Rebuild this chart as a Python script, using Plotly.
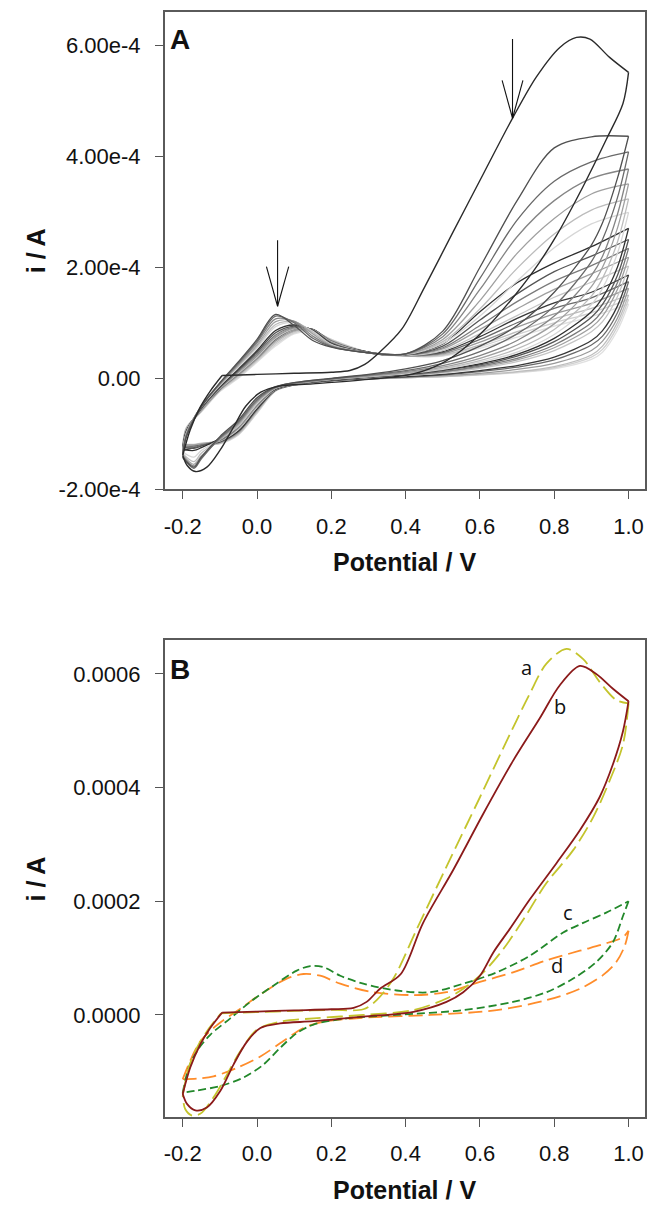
import plotly.graph_objects as go

# ---------------- DATA (currents in units of 1e-4 A) ----------------
UNIT = 1e-4

X_TICKS = [-0.2, 0.0, 0.2, 0.4, 0.6, 0.8, 1.0]
X_TICK_TEXT = ["-0.2", "0.0", "0.2", "0.4", "0.6", "0.8", "1.0"]
A_Y_TICKS = [-2e-4, 0.0, 2e-4, 4e-4, 6e-4]
A_Y_TICK_TEXT = ["-2.00e-4", "0.00", "2.00e-4", "4.00e-4", "6.00e-4"]
B_Y_TICKS = [0.0, 0.0002, 0.0004, 0.0006]
B_Y_TICK_TEXT = ["0.0000", "0.0002", "0.0004", "0.0006"]

# ---- Panel A : first cycle ----
cyc01_rise_v = [-0.2, -0.18, -0.153, -0.126, -0.094]
cyc01_rise_i = [-1.39, -0.93, -0.52, -0.23, 0.05]
cyc01_fwd_v = [-0.094, 0.0, 0.1, 0.2, 0.25, 0.29, 0.33, 0.39, 0.45, 0.525, 0.609, 0.689, 0.752, 0.815, 0.86, 0.896, 0.949, 1.0]
cyc01_fwd_i = [0.05, 0.07, 0.09, 0.11, 0.14, 0.25, 0.47, 0.89, 1.63, 2.6, 3.68, 4.70, 5.43, 5.96, 6.14, 6.11, 5.78, 5.51]
cyc01_rev_v = [1.0, 0.985, 0.94, 0.878, 0.806, 0.743, 0.68, 0.618, 0.55, 0.5, 0.42, 0.3, 0.15, 0.06, 0.01, -0.03, -0.065, -0.1, -0.135, -0.166, -0.188, -0.2]
cyc01_rev_i = [5.51, 4.95, 4.30, 3.46, 2.57, 1.92, 1.38, 0.91, 0.50, 0.28, 0.08, -0.02, -0.10, -0.14, -0.25, -0.50, -0.90, -1.30, -1.60, -1.68, -1.57, -1.39]

# ---- Panel A : later cycles on shared potential grids ----
FWD_V = [-0.2, -0.19, -0.15, -0.1, -0.05, 0.0, 0.05, 0.1, 0.15, 0.2, 0.3, 0.4, 0.5, 0.6, 0.7, 0.8, 0.9, 1.0]
REV_V = [1.0, 0.97, 0.93, 0.9, 0.8, 0.7, 0.6, 0.5, 0.4, 0.3, 0.2, 0.1, 0.05, 0.0, -0.05, -0.1, -0.15, -0.17, -0.2]

cyc02_fwd = [-1.38, -1.05, -0.52, -0.08, 0.30, 0.70, 1.15, 0.95, 0.68, 0.56, 0.46, 0.44, 0.85, 2.00, 3.20, 4.15, 4.35, 4.36]
cyc03_fwd = [-1.36, -1.03, -0.50, -0.09, 0.28, 0.67, 1.12, 1.00, 0.72, 0.57, 0.46, 0.44, 0.80, 1.80, 2.85, 3.55, 3.90, 4.08]
cyc04_fwd = [-1.35, -1.02, -0.50, -0.10, 0.26, 0.64, 1.07, 1.02, 0.76, 0.58, 0.46, 0.44, 0.75, 1.60, 2.55, 3.20, 3.60, 3.77]
cyc05_fwd = [-1.34, -1.00, -0.50, -0.11, 0.24, 0.60, 1.02, 1.03, 0.80, 0.59, 0.46, 0.43, 0.70, 1.40, 2.25, 2.88, 3.32, 3.50]
cyc06_fwd = [-1.33, -0.99, -0.51, -0.12, 0.22, 0.57, 0.97, 1.02, 0.83, 0.60, 0.46, 0.43, 0.66, 1.25, 1.98, 2.60, 3.03, 3.23]
cyc07_fwd = [-1.32, -0.98, -0.52, -0.13, 0.20, 0.54, 0.93, 1.00, 0.85, 0.61, 0.46, 0.43, 0.63, 1.12, 1.75, 2.35, 2.78, 2.99]
cyc08_fwd = [-1.30, -0.96, -0.53, -0.15, 0.17, 0.50, 0.86, 0.96, 0.86, 0.62, 0.46, 0.43, 0.62, 1.20, 1.72, 2.08, 2.37, 2.70]
cyc09_fwd = [-1.29, -0.95, -0.54, -0.16, 0.15, 0.47, 0.82, 0.94, 0.87, 0.63, 0.46, 0.42, 0.58, 1.05, 1.52, 1.92, 2.20, 2.50]
cyc10_fwd = [-1.28, -0.94, -0.55, -0.17, 0.13, 0.44, 0.78, 0.92, 0.87, 0.64, 0.46, 0.42, 0.55, 0.95, 1.38, 1.75, 2.03, 2.34]
cyc11_fwd = [-1.27, -0.93, -0.56, -0.18, 0.11, 0.41, 0.75, 0.90, 0.87, 0.65, 0.46, 0.42, 0.53, 0.88, 1.25, 1.60, 1.88, 2.18]
cyc12_fwd = [-1.26, -0.92, -0.57, -0.19, 0.09, 0.38, 0.72, 0.89, 0.87, 0.66, 0.46, 0.41, 0.50, 0.80, 1.13, 1.46, 1.73, 2.02]
cyc13_fwd = [-1.30, -0.95, -0.56, -0.19, 0.10, 0.40, 0.74, 0.90, 0.88, 0.66, 0.47, 0.42, 0.48, 0.75, 1.08, 1.36, 1.55, 1.86]
cyc14_fwd = [-1.28, -0.93, -0.57, -0.20, 0.08, 0.37, 0.70, 0.88, 0.88, 0.67, 0.47, 0.41, 0.46, 0.70, 1.00, 1.26, 1.45, 1.74]
cyc15_fwd = [-1.26, -0.91, -0.58, -0.21, 0.06, 0.35, 0.67, 0.86, 0.87, 0.68, 0.47, 0.41, 0.44, 0.65, 0.92, 1.16, 1.35, 1.62]
cyc16_fwd = [-1.24, -0.90, -0.59, -0.22, 0.04, 0.33, 0.64, 0.84, 0.86, 0.69, 0.47, 0.40, 0.42, 0.60, 0.84, 1.07, 1.26, 1.50]
cyc17_fwd = [-1.22, -0.89, -0.60, -0.23, 0.02, 0.31, 0.61, 0.82, 0.85, 0.70, 0.47, 0.40, 0.41, 0.57, 0.79, 1.00, 1.18, 1.42]
cyc18_fwd = [-1.20, -0.88, -0.61, -0.24, 0.00, 0.29, 0.58, 0.80, 0.84, 0.70, 0.47, 0.40, 0.40, 0.54, 0.74, 0.94, 1.11, 1.34]

cyc02_rev = [4.36, 3.60, 2.80, 2.40, 1.55, 0.95, 0.58, 0.32, 0.17, 0.07, 0.00, -0.08, -0.15, -0.35, -0.75, -1.05, -1.42, -1.60, -1.42]
cyc03_rev = [4.08, 3.25, 2.50, 2.10, 1.30, 0.80, 0.48, 0.27, 0.14, 0.06, -0.01, -0.08, -0.16, -0.38, -0.78, -1.07, -1.45, -1.62, -1.43]
cyc04_rev = [3.77, 2.95, 2.20, 1.85, 1.12, 0.68, 0.41, 0.23, 0.12, 0.05, -0.01, -0.09, -0.17, -0.40, -0.80, -1.08, -1.42, -1.58, -1.40]
cyc05_rev = [3.50, 2.70, 2.00, 1.65, 0.98, 0.60, 0.36, 0.20, 0.10, 0.04, -0.02, -0.09, -0.17, -0.42, -0.82, -1.10, -1.40, -1.55, -1.38]
cyc06_rev = [3.23, 2.45, 1.80, 1.48, 0.88, 0.53, 0.32, 0.18, 0.09, 0.03, -0.02, -0.10, -0.18, -0.44, -0.85, -1.10, -1.35, -1.50, -1.36]
cyc07_rev = [2.99, 2.25, 1.62, 1.33, 0.79, 0.47, 0.29, 0.16, 0.08, 0.03, -0.02, -0.10, -0.18, -0.46, -0.86, -1.10, -1.30, -1.42, -1.33]
cyc08_rev = [2.70, 2.00, 1.45, 1.20, 0.72, 0.43, 0.26, 0.15, 0.07, 0.02, -0.03, -0.10, -0.19, -0.42, -0.80, -1.08, -1.25, -1.30, -1.28]
cyc09_rev = [2.50, 1.85, 1.33, 1.10, 0.66, 0.40, 0.24, 0.14, 0.07, 0.02, -0.03, -0.10, -0.19, -0.45, -0.85, -1.10, -1.22, -1.26, -1.25]
cyc10_rev = [2.34, 1.72, 1.22, 1.00, 0.60, 0.36, 0.22, 0.12, 0.06, 0.02, -0.03, -0.10, -0.20, -0.48, -0.88, -1.12, -1.20, -1.24, -1.23]
cyc11_rev = [2.18, 1.60, 1.12, 0.92, 0.55, 0.33, 0.20, 0.11, 0.05, 0.01, -0.03, -0.11, -0.20, -0.50, -0.90, -1.12, -1.18, -1.20, -1.20]
cyc12_rev = [2.02, 1.47, 1.02, 0.84, 0.50, 0.30, 0.18, 0.10, 0.05, 0.01, -0.03, -0.11, -0.20, -0.52, -0.92, -1.13, -1.17, -1.19, -1.19]
cyc13_rev = [1.86, 1.30, 0.86, 0.68, 0.38, 0.23, 0.14, 0.07, 0.03, 0.00, -0.04, -0.11, -0.21, -0.55, -0.95, -1.14, -1.20, -1.25, -1.30]
cyc14_rev = [1.74, 1.18, 0.76, 0.60, 0.33, 0.20, 0.12, 0.06, 0.02, 0.00, -0.04, -0.12, -0.21, -0.56, -0.96, -1.15, -1.20, -1.22, -1.25]
cyc15_rev = [1.62, 1.08, 0.67, 0.50, 0.27, 0.16, 0.09, 0.05, 0.02, -0.01, -0.04, -0.12, -0.22, -0.58, -0.98, -1.16, -1.20, -1.21, -1.22]
cyc16_rev = [1.50, 1.00, 0.58, 0.42, 0.21, 0.12, 0.07, 0.03, 0.01, -0.01, -0.04, -0.12, -0.22, -0.60, -1.00, -1.17, -1.19, -1.20, -1.20]
cyc17_rev = [1.42, 0.93, 0.52, 0.38, 0.19, 0.11, 0.06, 0.03, 0.01, -0.01, -0.04, -0.12, -0.23, -0.62, -1.01, -1.17, -1.19, -1.20, -1.20]
cyc18_rev = [1.34, 0.86, 0.47, 0.34, 0.17, 0.10, 0.06, 0.03, 0.01, -0.01, -0.04, -0.12, -0.23, -0.63, -1.02, -1.18, -1.19, -1.20, -1.20]

# ---- Panel B ----
a_rise_v = [-0.2, -0.184, -0.162, -0.135, -0.097]
a_rise_i = [-1.42, -0.93, -0.58, -0.29, 0.03]
a_fwd_v = [-0.097, 0.0, 0.1, 0.2, 0.286, 0.322, 0.367, 0.43, 0.51, 0.60, 0.68, 0.734, 0.779, 0.833, 0.878, 0.922, 0.967, 1.0]
a_fwd_i = [0.03, 0.05, 0.07, 0.09, 0.10, 0.26, 0.64, 1.51, 2.61, 3.83, 4.93, 5.65, 6.18, 6.44, 6.26, 5.86, 5.54, 5.48]
a_rev_v = [1.0, 0.985, 0.949, 0.905, 0.851, 0.779, 0.717, 0.663, 0.609, 0.555, 0.51, 0.421, 0.286, 0.152, 0.062, 0.0, -0.045, -0.081, -0.117, -0.153, -0.175, -0.193, -0.2]
a_rev_i = [5.48, 4.76, 4.12, 3.48, 2.90, 2.32, 1.68, 1.16, 0.75, 0.46, 0.29, 0.085, 0.0, -0.06, -0.12, -0.26, -0.64, -1.05, -1.45, -1.74, -1.77, -1.66, -1.42]

b_rise_v = [-0.2, -0.18, -0.153, -0.126, -0.094]
b_rise_i = [-1.39, -0.93, -0.52, -0.23, 0.04]
b_fwd_v = [-0.094, 0.0, 0.1, 0.2, 0.26, 0.295, 0.331, 0.387, 0.447, 0.528, 0.609, 0.689, 0.761, 0.815, 0.869, 0.913, 0.958, 1.0]
b_fwd_i = [0.04, 0.06, 0.08, 0.10, 0.125, 0.23, 0.46, 0.72, 1.62, 2.55, 3.54, 4.47, 5.22, 5.80, 6.14, 6.00, 5.74, 5.52]
b_rev_v = [1.0, 0.985, 0.958, 0.922, 0.869, 0.806, 0.734, 0.680, 0.636, 0.600, 0.555, 0.510, 0.421, 0.286, 0.152, 0.062, 0.009, -0.027, -0.063, -0.099, -0.135, -0.166, -0.188, -0.2]
b_rev_i = [5.52, 4.99, 4.41, 3.83, 3.25, 2.67, 2.03, 1.51, 1.10, 0.69, 0.40, 0.23, 0.056, -0.03, -0.11, -0.15, -0.23, -0.47, -0.87, -1.34, -1.63, -1.68, -1.57, -1.39]

c_fwd_v = [-0.2, -0.184, -0.162, -0.126, -0.072, -0.018, 0.045, 0.107, 0.143, 0.179, 0.224, 0.286, 0.376, 0.466, 0.555, 0.645, 0.734, 0.824, 0.878, 0.94, 1.0]
c_fwd_i = [-1.37, -0.93, -0.64, -0.35, -0.06, 0.23, 0.52, 0.78, 0.86, 0.84, 0.69, 0.55, 0.43, 0.40, 0.55, 0.75, 1.04, 1.45, 1.62, 1.80, 2.0]
c_rev_v = [1.0, 0.985, 0.958, 0.913, 0.851, 0.779, 0.689, 0.555, 0.376, 0.242, 0.152, 0.107, 0.062, 0.018, -0.036, -0.099, -0.162, -0.2]
c_rev_i = [2.0, 1.74, 1.28, 0.93, 0.64, 0.40, 0.23, 0.085, 0.0, -0.06, -0.17, -0.32, -0.58, -0.87, -1.10, -1.25, -1.33, -1.37]

d_fwd_v = [-0.2, -0.18, -0.153, -0.108, -0.045, 0.018, 0.08, 0.125, 0.17, 0.224, 0.304, 0.421, 0.51, 0.60, 0.689, 0.779, 0.869, 0.94, 0.985, 1.0]
d_fwd_i = [-1.13, -0.81, -0.47, -0.18, 0.11, 0.40, 0.64, 0.72, 0.69, 0.55, 0.41, 0.35, 0.40, 0.58, 0.75, 0.96, 1.13, 1.26, 1.37, 1.48]
d_rev_v = [1.0, 0.99, 0.967, 0.931, 0.869, 0.779, 0.645, 0.466, 0.286, 0.179, 0.125, 0.071, 0.009, -0.054, -0.117, -0.162, -0.2]
d_rev_i = [1.48, 1.22, 0.93, 0.70, 0.46, 0.26, 0.085, 0.0, -0.05, -0.12, -0.23, -0.46, -0.73, -0.93, -1.08, -1.12, -1.13]

CURVE_LABELS = ["a", "b", "c", "d"]
CURVE_LABEL_POS = [(0.725, 6.12), (0.815, 5.42), (0.838, 1.80), (0.807, 0.87)]

# arrows in panel A: (x, y_top, y_tip, half_width, head_y)
ARROWS = [(0.0553, 2.486, 1.298, 0.030, 2.01), (0.6877, 6.11, 4.684, 0.028, 5.367)]

# ---------------- STYLE ----------------
W, H = 647, 1220
FONT = "Liberation Sans, Arial, sans-serif"
GRAYS = ["#505050", "#6a6a6a", "#858585", "#a0a0a0", "#bcbcbc", "#d6d6d6",
         "#303030", "#555555", "#7a7a7a", "#a0a0a0", "#c5c5c5",
         "#383838", "#6a6a6a", "#9a9a9a", "#bdbdbd", "#d0d0d0", "#e0e0e0"]

LATER = [(cyc02_fwd, cyc02_rev), (cyc03_fwd, cyc03_rev), (cyc04_fwd, cyc04_rev),
         (cyc05_fwd, cyc05_rev), (cyc06_fwd, cyc06_rev), (cyc07_fwd, cyc07_rev),
         (cyc08_fwd, cyc08_rev), (cyc09_fwd, cyc09_rev), (cyc10_fwd, cyc10_rev),
         (cyc11_fwd, cyc11_rev), (cyc12_fwd, cyc12_rev), (cyc13_fwd, cyc13_rev),
         (cyc14_fwd, cyc14_rev), (cyc15_fwd, cyc15_rev), (cyc16_fwd, cyc16_rev),
         (cyc17_fwd, cyc17_rev), (cyc18_fwd, cyc18_rev)]


def sc(vals):
    return [v * UNIT for v in vals]


fig = go.Figure()


def add(xv, yv, color, width, dash="solid", xa="x", ya="y"):
    fig.add_trace(go.Scatter(x=xv, y=sc(yv), mode="lines", xaxis=xa, yaxis=ya,
                             line=dict(color=color, width=width, dash=dash,
                                       shape="spline", smoothing=0.9),
                             hoverinfo="skip", showlegend=False))


# Panel A
for (fw, rv), col in reversed(list(zip(LATER, GRAYS))):
    add(FWD_V, fw, col, 1.3)
    add(REV_V, rv, col, 1.3)
add(cyc01_rise_v, cyc01_rise_i, "#2b2b2b", 1.4)
add(cyc01_fwd_v, cyc01_fwd_i, "#2b2b2b", 1.4)
add(cyc01_rev_v, cyc01_rev_i, "#2b2b2b", 1.4)

# Panel B
D_COL, C_COL, A_COL, B_COL = "#ff8c2a", "#22882a", "#c4c42c", "#8b1a1a"
add(d_fwd_v, d_fwd_i, D_COL, 1.8, "14px,6px", "x2", "y2")
add(d_rev_v, d_rev_i, D_COL, 1.8, "14px,6px", "x2", "y2")
add(c_fwd_v, c_fwd_i, C_COL, 1.8, "8px,4px", "x2", "y2")
add(c_rev_v, c_rev_i, C_COL, 1.8, "8px,4px", "x2", "y2")
add(a_rise_v, a_rise_i, A_COL, 1.8, "16px,6px", "x2", "y2")
add(a_fwd_v, a_fwd_i, A_COL, 1.8, "16px,6px", "x2", "y2")
add(a_rev_v, a_rev_i, A_COL, 1.8, "16px,6px", "x2", "y2")
add(b_rise_v, b_rise_i, B_COL, 1.8, "solid", "x2", "y2")
add(b_fwd_v, b_fwd_i, B_COL, 1.8, "solid", "x2", "y2")
add(b_rev_v, b_rev_i, B_COL, 1.8, "solid", "x2", "y2")

# axes
tickfont = dict(family=FONT, size=22, color="#111111")
axis_common = dict(ticks="outside", ticklen=8, tickwidth=1.3, tickcolor="#555555",
                   showline=True, linecolor="#5a5a5a", linewidth=1.6, mirror=True,
                   showgrid=False, zeroline=False, tickfont=tickfont,
                   ticklabeloverflow="allow")
XR = [-0.2484, 1.0443]
xdom = [164 / W, 645 / W]
fig.update_layout(
    width=W, height=H, margin=dict(l=0, r=0, t=0, b=0),
    paper_bgcolor="white", plot_bgcolor="white", showlegend=False,
    xaxis=dict(domain=xdom, anchor="y", range=XR, tickvals=X_TICKS, ticktext=X_TICK_TEXT,
               ticklabelstandoff=8, **axis_common),
    yaxis=dict(domain=[1 - 494.6 / H, 1 - 12 / H], anchor="x", range=[-2e-4, 6.6e-4],
               tickvals=A_Y_TICKS, ticktext=A_Y_TICK_TEXT, ticklabelstandoff=10, **axis_common),
    xaxis2=dict(domain=xdom, anchor="y2", range=XR, tickvals=X_TICKS, ticktext=X_TICK_TEXT,
                ticklabelstandoff=8, **axis_common),
    yaxis2=dict(domain=[1 - 1129 / H, 1 - 646.7 / H], anchor="x2", range=[-1.795e-4, 6.6e-4],
                tickvals=B_Y_TICKS, ticktext=B_Y_TICK_TEXT, ticklabelstandoff=10, **axis_common),
)

bold = lambda s: dict(family=FONT, size=s, color="#111111", weight="bold")
ann = []
ann.append(dict(text="<b>A</b>", x=167 / W, y=1 - 40 / H, xref="paper", yref="paper",
                xanchor="left", yanchor="middle", showarrow=False, font=bold(28)))
ann.append(dict(text="<b>B</b>", x=167 / W, y=1 - 677 / H, xref="paper", yref="paper",
                xanchor="left", yanchor="middle", showarrow=False, font=bold(28)))
for yy in (568, 1203):
    ann.append(dict(text="<b>Potential / V</b>", x=404.5 / W, y=1 - yy / H, xref="paper",
                    yref="paper", xanchor="center", yanchor="middle", showarrow=False,
                    font=bold(25)))
for yy in (253, 888):
    ann.append(dict(text="<b>i / A</b>", x=35 / W, y=1 - yy / H, xref="paper", yref="paper",
                    xanchor="center", yanchor="middle", textangle=-90, showarrow=False,
                    font=bold(25)))
for lab, (lx, ly) in zip(CURVE_LABELS, CURVE_LABEL_POS):
    ann.append(dict(text=lab, x=lx, y=ly * UNIT, xref="x2", yref="y2", showarrow=False,
                    xanchor="center", yanchor="middle",
                    font=dict(family="Open Sans, Noto Sans, sans-serif", size=20, color="#111")))
fig.update_layout(annotations=ann)

shapes = []
for (ax, ytop, ytip, hw, hy) in ARROWS:
    for (x0, y0, x1, y1) in [(ax, ytop, ax, ytip), (ax - hw, hy, ax, ytip), (ax + hw, hy, ax, ytip)]:
        shapes.append(dict(type="line", xref="x", yref="y", x0=x0, y0=y0 * UNIT,
                           x1=x1, y1=y1 * UNIT, line=dict(color="#111111", width=1.1)))
fig.update_layout(shapes=shapes)

fig.write_html("out.html", config={"displayModeBar": False},
               post_script="document.body.style.margin='0';document.body.style.overflow='hidden';")
